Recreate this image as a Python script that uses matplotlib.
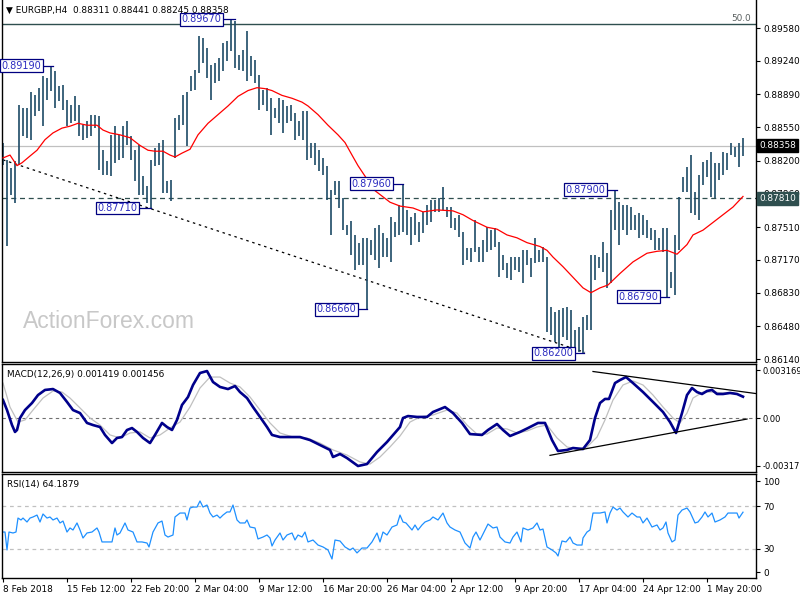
import matplotlib
matplotlib.use("Agg")
import matplotlib.pyplot as plt
import matplotlib.transforms as mtransforms
import numpy as np

# ---------------- data ----------------
highs = [0.8839, 0.8821, 0.8813, 0.8820, 0.8878, 0.8875, 0.8875, 0.8891, 0.8888, 0.8896,
         0.8908, 0.8906, 0.8919, 0.8913, 0.8898, 0.8899, 0.8883, 0.8878, 0.8887, 0.8878,
         0.8857, 0.8861, 0.8868, 0.8868, 0.8867, 0.8831, 0.8820, 0.8847, 0.8856, 0.8847,
         0.8856, 0.8861, 0.8846, 0.8831, 0.8836, 0.8804, 0.8794, 0.8821, 0.8833, 0.8839,
         0.8842, 0.8799, 0.8800, 0.8865, 0.8868, 0.8888, 0.8891, 0.8908, 0.8914, 0.8950,
         0.8948, 0.8937, 0.8920, 0.8922, 0.8927, 0.8942, 0.8945, 0.8967, 0.8965, 0.8930,
         0.8935, 0.8955, 0.8929, 0.8925, 0.8909, 0.8894, 0.8896, 0.8885, 0.8875, 0.8885,
         0.8883, 0.8877, 0.8878, 0.8870, 0.8861, 0.8872, 0.8872, 0.8839, 0.8839, 0.8831,
         0.8823, 0.8815, 0.8790, 0.8799, 0.8799, 0.8781, 0.8753, 0.8758, 0.8743, 0.8735,
         0.8740, 0.8740, 0.8738, 0.8750, 0.8753, 0.8745, 0.8740, 0.8762, 0.8756, 0.8774,
         0.8796, 0.8769, 0.8762, 0.8766, 0.8756, 0.8767, 0.8774, 0.8779, 0.8779, 0.8781,
         0.8793, 0.8772, 0.8772, 0.8761, 0.8764, 0.8746, 0.8729, 0.8729, 0.8759, 0.8730,
         0.8738, 0.8751, 0.8748, 0.8750, 0.8736, 0.8722, 0.8714, 0.8720, 0.8720, 0.8720,
         0.8727, 0.8727, 0.8719, 0.8740, 0.8727, 0.8730, 0.8720, 0.8668, 0.8663, 0.8665,
         0.8667, 0.8668, 0.8665, 0.8644, 0.8647, 0.8658, 0.8660, 0.8722, 0.8722, 0.8720,
         0.8736, 0.8724, 0.8769, 0.8790, 0.8777, 0.8774, 0.8774, 0.8772, 0.8764, 0.8766,
         0.8764, 0.8759, 0.8750, 0.8748, 0.8740, 0.8750, 0.8750, 0.8705, 0.8743, 0.8782,
         0.8803, 0.8814, 0.8826, 0.8788, 0.8805, 0.8819, 0.8821, 0.8829, 0.8818, 0.8818,
         0.8829, 0.8828, 0.8839, 0.8834, 0.8839, 0.8844]

lows = [0.8816, 0.8731, 0.8785, 0.8776, 0.8816, 0.8846, 0.8844, 0.8842, 0.8867, 0.8872,
        0.8856, 0.8883, 0.8893, 0.8875, 0.8882, 0.8873, 0.8856, 0.8859, 0.8861, 0.8846,
        0.8842, 0.8844, 0.8846, 0.8854, 0.8810, 0.8805, 0.8805, 0.8804, 0.8818, 0.8821,
        0.8823, 0.8836, 0.8821, 0.8799, 0.8785, 0.8785, 0.8776, 0.8771, 0.8815, 0.8816,
        0.8787, 0.8787, 0.8778, 0.8823, 0.8852, 0.8857, 0.8835, 0.8893, 0.8894, 0.8911,
        0.8922, 0.8906, 0.8883, 0.8901, 0.8903, 0.8913, 0.8924, 0.8934, 0.8916, 0.8914,
        0.8913, 0.8903, 0.8908, 0.8901, 0.8873, 0.8878, 0.8872, 0.8847, 0.8865, 0.8859,
        0.8849, 0.8859, 0.8861, 0.8842, 0.8846, 0.8842, 0.8821, 0.8823, 0.8816, 0.8809,
        0.8805, 0.8779, 0.8743, 0.8785, 0.8771, 0.8748, 0.8743, 0.8722, 0.8707, 0.8712,
        0.8712, 0.8666, 0.8722, 0.8717, 0.8709, 0.8720, 0.8720, 0.8715, 0.8741, 0.8743,
        0.8746, 0.8743, 0.8733, 0.8743, 0.8736, 0.8745, 0.8753, 0.8756, 0.8767, 0.8767,
        0.8769, 0.8762, 0.8750, 0.8748, 0.8741, 0.8712, 0.8717, 0.8715, 0.8725, 0.8715,
        0.8715, 0.8725, 0.8727, 0.8730, 0.8699, 0.8707, 0.8698, 0.8696, 0.8707, 0.8705,
        0.8693, 0.8712, 0.8699, 0.8714, 0.8715, 0.8715, 0.8642, 0.8639, 0.8632, 0.8623,
        0.8637, 0.8634, 0.8623, 0.8621, 0.8621, 0.8620, 0.8644, 0.8644, 0.8696, 0.8709,
        0.8704, 0.8688, 0.8693, 0.8748, 0.8733, 0.8748, 0.8743, 0.8748, 0.8748, 0.8740,
        0.8743, 0.8740, 0.8738, 0.8727, 0.8727, 0.8725, 0.8679, 0.8688, 0.8681, 0.8727,
        0.8788, 0.8788, 0.8766, 0.8764, 0.8759, 0.8795, 0.8803, 0.8782, 0.8781, 0.8800,
        0.8805, 0.8810, 0.8826, 0.8824, 0.8814, 0.8825]

ma_x = [0, 1.75, 3.5, 4.75, 6.75, 8.5, 10.5, 12.5, 14.75, 16.75, 18.75, 21, 23.5, 25, 26.75,
        29.25, 31.75, 34.25, 36.25, 38, 40, 41.75, 43, 44.75, 46.75, 48.75, 51.25, 53.75, 56.25,
        58.75, 61.25, 63.5, 65.5, 67.25, 69.75, 72.25, 74.75, 76.25, 78.75, 81.25, 83.75, 85.5,
        87.25, 88.75, 91, 91.75, 94.25, 96.75, 99.25, 102.5, 105, 108.5, 112.5, 115, 117.5, 121,
        123.5, 126, 128.5, 131, 134.25, 136, 137.5, 140, 142.5, 145, 147, 149.25, 151.25, 154.25,
        157.5, 161, 163.5, 166, 168.5, 171, 172.5, 175, 177.5, 180, 182.5, 185]
ma_v = [0.8823, 0.8826, 0.8815, 0.8818, 0.8825, 0.8831, 0.8842, 0.8849, 0.8854, 0.8856, 0.8859,
        0.8857, 0.8857, 0.8852, 0.8849, 0.8847, 0.8844, 0.8836, 0.8831, 0.8830, 0.8830, 0.8826,
        0.8824, 0.8828, 0.8832, 0.8847, 0.8859, 0.8868, 0.8877, 0.8887, 0.8893, 0.8896, 0.8895,
        0.8893, 0.8888, 0.8885, 0.8881, 0.8877, 0.8868, 0.8857, 0.8847, 0.8839, 0.8826, 0.8815,
        0.8801, 0.8793, 0.8785, 0.8777, 0.8773, 0.8771, 0.8767, 0.8769, 0.8768, 0.8764, 0.8758,
        0.8751, 0.8749, 0.8743, 0.8740, 0.8735, 0.8731, 0.8727, 0.8720, 0.8710, 0.8699, 0.8688,
        0.8683, 0.8688, 0.8691, 0.8703, 0.8715, 0.8724, 0.8726, 0.8727, 0.8723, 0.8733, 0.8743,
        0.8748, 0.8756, 0.8764, 0.8772, 0.8783]

macd_x = [0, 1, 2.25, 3, 3.5, 4.25, 5.5, 7.25, 8.75, 10.5, 12.5, 14.25, 16, 17.5, 19.25, 21,
          22.5, 24.25, 25.5, 27.25, 28.5, 29.75, 31, 32.25, 33.5, 35, 36.75, 38, 39.75, 41, 42.25,
          43.5, 44.75, 46.25, 47.5, 49.25, 51, 52.5, 54.25, 56.25, 58, 59.25, 61, 62.5, 64.25, 66,
          67.25, 69.25, 71.75, 74.25, 76.75, 79.25, 81.75, 82.5, 84.25, 86, 88.75, 91, 93.5, 96,
          99.25, 100, 101.25, 103.5, 106, 107.5, 110.5, 112.5, 114.75, 116.75, 119.75, 121.25,
          123.5, 125, 126.75, 129.25, 131.25, 133.75, 135.5, 137.25, 138.75, 141, 142.5, 145,
          146.75, 148, 149.25, 150.5, 151.5, 153, 154.25, 155.75, 157.5, 160, 162.5, 165, 166.75,
          168.25, 169.75, 171, 172.25, 173.5, 174.75, 176, 177.25, 178.5, 180, 181.75, 183.5, 185]
macd_v = [0.00120, 0.00053, -0.00047, -0.00093, -0.00080, 0.0, 0.00053, 0.00100, 0.00153,
          0.00187, 0.00193, 0.00167, 0.00107, 0.00053, 0.00033, -0.00033, -0.00047, -0.00060,
          -0.00113, -0.00167, -0.00133, -0.00127, -0.00080, -0.00067, -0.00093, -0.00133,
          -0.00167, -0.00113, -0.00033, -0.00060, -0.00080, -0.00013, 0.00087, 0.00140, 0.00220,
          0.00300, 0.00313, 0.00240, 0.00207, 0.00193, 0.00213, 0.00173, 0.00133, 0.00073,
          0.00007, -0.00060, -0.00113, -0.00127, -0.00127, -0.00127, -0.00147, -0.00180,
          -0.00213, -0.00260, -0.00240, -0.00267, -0.00320, -0.00307, -0.00227, -0.00160,
          -0.00060, 0.0, 0.00013, 0.00007, 0.00007, 0.00040, 0.00073, 0.00033, -0.00033,
          -0.00107, -0.00113, -0.00080, -0.00040, -0.00080, -0.00120, -0.00093, -0.00067,
          -0.00033, -0.00033, -0.00147, -0.00220, -0.00213, -0.00200, -0.00207, -0.00147, 0.0,
          0.00100, 0.00127, 0.00127, 0.00233, 0.00253, 0.00273, 0.00233, 0.00173, 0.00107,
          0.00040, -0.00027, -0.00100, 0.00033, 0.00153, 0.00200, 0.00173, 0.00160, 0.00180,
          0.00187, 0.00160, 0.00160, 0.00167, 0.00160, 0.00142]

sig_x = [0, 1.75, 3.75, 5.5, 7.5, 10, 12.5, 14.75, 16.75, 19.25, 21.75, 24.25, 26.75, 29.25,
         31.75, 34.25, 36.75, 39.25, 41.75, 44.25, 46.75, 49.25, 51.75, 54.25, 56.75, 59.25,
         61.75, 64.25, 66.75, 69.25, 72.5, 76, 79.25, 82.5, 86, 89.25, 91.75, 94.25, 96.75,
         99.25, 101.75, 104.25, 107.5, 111, 113.5, 116, 118.5, 121, 123.5, 126, 128.5, 131,
         133.5, 136, 138.5, 141, 143.5, 146, 148.5, 150.5, 152.5, 155, 157.5, 160, 162.5, 165,
         167.5, 169.25, 171, 172.5, 175, 177.5, 180, 182.5, 185]
sig_v = [0.00233, 0.00073, -0.00027, -0.00013, 0.00053, 0.00133, 0.00180, 0.00173, 0.00133,
         0.00067, 0.0, -0.00047, -0.00113, -0.00133, -0.00100, -0.00093, -0.00133, -0.00113,
         -0.00067, -0.00027, 0.00073, 0.00200, 0.00273, 0.00273, 0.00233, 0.00207, 0.00140,
         0.00053, -0.00033, -0.00100, -0.00127, -0.00133, -0.00167, -0.00213, -0.00247,
         -0.00293, -0.00307, -0.00260, -0.00193, -0.00120, -0.00027, 0.00007, 0.00020, 0.00053,
         0.00033, -0.00047, -0.00107, -0.00107, -0.00067, -0.00073, -0.00100, -0.00087,
         -0.00060, -0.00047, -0.00133, -0.00193, -0.00207, -0.00193, -0.00127, -0.00013,
         0.00120, 0.00220, 0.00247, 0.00220, 0.00153, 0.00073, 0.0, -0.00033, 0.00033, 0.00133,
         0.00173, 0.00173, 0.00167, 0.00167, 0.00146]

rsi_x = [0, 0.5, 1, 1.5, 2.5, 3.25, 3.75, 4.5, 5, 6, 6.75, 7.5, 8.5, 9.25, 10, 11, 11.75, 12.5,
         13.5, 14.25, 15, 16, 16.75, 17.5, 18.5, 19.25, 20, 21, 22.25, 23.5, 24, 24.75, 26, 27.25,
         28, 28.5, 29.25, 30.5, 31.25, 32.5, 33.5, 34.75, 36, 36.5, 37.5, 38.75, 39.75, 40.5,
         41.25, 42.5, 43, 44.25, 45.5, 46, 46.75, 47.5, 48.5, 49.25, 50, 51, 51.75, 52.5, 53.5,
         54.25, 55, 56, 56.75, 57.5, 58.5, 59.25, 60.5, 61, 61.75, 63, 63.75, 65, 66, 66.75,
         67.25, 68, 69.25, 70, 71, 72.25, 73, 73.75, 74.75, 75.5, 76.25, 77.5, 78.75, 80, 81.25,
         82.25, 83, 84.25, 85.5, 86.75, 87.5, 88.5, 89.75, 91, 92.25, 93.5, 94.25, 95, 96, 97.25,
         98.5, 99.25, 100, 100.75, 102.25, 103, 103.75, 104.75, 105.5, 106.75, 107.5, 108.75,
         110, 111, 111.75, 113, 114.25, 115.5, 116.75, 117.5, 118.25, 119.25, 120.5, 121.25,
         122.5, 123.5, 124.25, 125.5, 126.75, 127.5, 128.5, 129.5, 130, 131.25, 132.5, 133.5,
         134.25, 135, 136, 137.25, 138.25, 138.75, 139.75, 140.75, 141.75, 142.5, 143.5, 144.75,
         145, 146, 146.75, 147.5, 148.5, 149.25, 150.5, 151, 151.75, 152.5, 153.5, 154.25, 155,
         156.25, 157.25, 158.5, 159.25, 160, 161, 162.25, 163.5, 164.25, 165, 165.75, 166.25,
         167.25, 168, 168.75, 169.75, 171, 171.75, 173, 173.75, 174.75, 175.5, 176.25, 177.25,
         178, 179.25, 180.5, 181.25, 182.5, 183.5, 184, 185]
rsi_v = [45.6, 45.6, 28.8, 45.6, 44.7, 45.6, 58.7, 56.9, 58.7, 55.0, 58.7, 59.7, 61.5, 55.0,
         62.5, 58.7, 59.7, 56.9, 58.7, 54.1, 55.9, 45.6, 49.4, 47.5, 54.1, 47.5, 40.0, 44.7,
         45.6, 49.4, 45.6, 36.3, 36.3, 36.3, 49.4, 42.8, 44.7, 54.1, 47.5, 45.6, 36.3, 36.3,
         35.3, 31.6, 45.6, 54.1, 55.9, 42.8, 40.9, 42.8, 59.7, 63.4, 63.4, 56.9, 68.1, 69.0,
         69.0, 74.7, 69.0, 70.9, 63.4, 59.7, 61.5, 58.7, 61.5, 64.4, 64.4, 70.9, 56.9, 54.1,
         54.1, 56.9, 50.3, 49.4, 39.1, 40.9, 42.8, 40.0, 32.5, 38.1, 44.7, 38.1, 42.8, 44.7,
         38.1, 42.8, 40.9, 45.6, 36.3, 38.1, 33.4, 31.6, 28.8, 20.3, 38.1, 37.2, 31.6, 28.8,
         30.6, 26.0, 30.6, 30.6, 36.3, 44.7, 36.3, 45.6, 42.8, 50.3, 52.2, 61.5, 55.0, 54.1,
         47.5, 52.2, 47.5, 52.2, 55.0, 56.9, 59.7, 56.9, 63.4, 54.1, 50.3, 47.5, 45.6, 35.3,
         30.6, 40.9, 45.6, 38.1, 47.5, 53.1, 49.4, 50.3, 40.9, 36.3, 35.3, 40.9, 45.6, 36.3,
         49.4, 47.5, 49.4, 54.1, 47.5, 48.4, 31.6, 28.8, 26.0, 23.1, 37.2, 36.3, 40.9, 35.3,
         33.4, 33.4, 40.0, 45.6, 47.5, 63.4, 63.4, 63.4, 64.4, 54.1, 63.4, 69.0, 66.2, 68.1,
         64.4, 59.7, 63.4, 59.7, 59.7, 54.1, 58.7, 50.3, 52.2, 47.5, 49.4, 55.0, 44.7, 36.3,
         38.1, 61.5, 66.2, 68.1, 64.4, 54.1, 55.0, 59.7, 64.4, 59.7, 63.4, 55.0, 56.9, 59.7,
         63.4, 63.4, 63.4, 58.7, 64.2]

tick_pos = [0, 16, 32, 48, 64, 80, 96, 112, 128, 144, 160, 176]
tick_labels = ["8 Feb 2018", "15 Feb 12:00", "22 Feb 20:00", "2 Mar 04:00", "9 Mar 12:00",
               "16 Mar 20:00", "26 Mar 04:00", "2 Apr 12:00", "9 Apr 20:00", "17 Apr 04:00",
               "24 Apr 12:00", "1 May 20:00"]
price_ticks = [0.8958, 0.8924, 0.8889, 0.8855, 0.8820, 0.8786, 0.8751, 0.8717, 0.8683, 0.8648, 0.8614]

# swing labels: text, price, box right (bar units), bar position
swings = [("0.89190", 0.8919, 9.6, 12.5), ("0.89670", 0.8967, 54.6, 58.0),
          ("0.87710", 0.8771, 33.6, 37.0), ("0.86660", 0.8666, 88.3, 91.0),
          ("0.87960", 0.8796, 97.1, 100.0), ("0.86200", 0.8620, 142.6, 145.3),
          ("0.87900", 0.8790, 150.6, 153.5), ("0.86790", 0.8679, 163.8, 166.5)]

last_price = 0.88358
support = 0.87810
fib50 = 0.8962
trend_x = [0, 145.5]
trend_y = [0.8821, 0.8621]
macd_tri_up_x = [147.5, 188.5]
macd_tri_up_y = [0.00310, 0.00162]
macd_tri_lo_x = [136.75, 186.0]
macd_tri_lo_y = [-0.00249, -0.00007]

# ---------------- style ----------------
FS = 6.4
plt.rcParams['font.family'] = ['DejaVu Sans']
BAR = '#1d4a66'
W, H = 800, 600

fig = plt.figure(figsize=(8, 6), dpi=100)
fig.patch.set_facecolor('white')

def rect(y0, y1):
    return [2 / W, 1 - y1 / H, 754 / W, (y1 - y0) / H]

ax1 = fig.add_axes(rect(0, 362))
ax2 = fig.add_axes(rect(364, 472))
ax3 = fig.add_axes(rect(474, 578))

xlim = (-0.25, 188.25)
for ax in (ax1, ax2, ax3):
    ax.set_xlim(*xlim)
    for s in ax.spines.values():
        s.set_color('black')
        s.set_linewidth(1.0)
    ax.yaxis.tick_right()
    ax.tick_params(axis='y', direction='out', length=3, width=0.8, pad=2, labelsize=FS, colors='black')
    ax.set_facecolor('white')
ax1.spines['top'].set_visible(False)

# main chart
idx = np.arange(len(highs))
ax1.set_ylim(0.86110, 0.89871)
ax1.axhline(last_price, color='#c0c0c0', lw=0.9, zorder=1)
ax1.axhline(fib50, color='#2f4f4f', lw=1.0, zorder=1)
ax1.axhline(support, color='#2f4f4f', lw=0.9, ls=(0, (4, 3)), zorder=1)
ax1.plot(trend_x, trend_y, color='black', lw=0.9, ls=(0, (2, 3)), zorder=1)
ax1.vlines(idx, lows, highs, color=BAR, lw=1.2, zorder=2)
ax1.plot(ma_x, ma_v, color='#ff0000', lw=0.9, zorder=3)
ax1.set_xticks([])
ax1.set_yticks(price_ticks)
ax1.set_yticklabels(['%.5f' % v for v in price_ticks])

for txt, p, bx, bi in swings:
    ax1.plot([bx, bi], [p, p], color='#000080', lw=0.9, zorder=3)
    ax1.text(bx, p, txt, ha='right', va='center', fontsize=7, color='#2b2bc0', zorder=5,
             bbox=dict(boxstyle='square,pad=0.15', fc='white', ec='#000080', lw=0.9))

tr = mtransforms.blended_transform_factory(ax1.transAxes, ax1.transData)
ax1.text(1.004, last_price, '%.5f' % last_price, transform=tr, ha='left', va='center', fontsize=FS,
         color='white', clip_on=False, zorder=10,
         bbox=dict(boxstyle='square,pad=0.2', fc='black', ec='black'))
ax1.text(1.004, support, '%.5f' % support, transform=tr, ha='left', va='center', fontsize=FS,
         color='white', clip_on=False, zorder=10,
         bbox=dict(boxstyle='square,pad=0.2', fc='#2f4f4f', ec='#2f4f4f'))
ax1.text(0.993, fib50 + 0.00012, '50.0', transform=tr, ha='right', va='bottom', fontsize=FS,
         color='#5a6060')

# MACD
ax2.set_ylim(-0.0036, 0.0036)
ax2.axhline(0, color='#707070', lw=0.8, ls=(0, (3, 3)))
ax2.plot(sig_x, sig_v, color='#c0c0c0', lw=0.9)
ax2.plot(macd_x, macd_v, color='#00008b', lw=1.9)
ax2.plot(macd_tri_up_x, macd_tri_up_y, color='black', lw=0.9)
ax2.plot(macd_tri_lo_x, macd_tri_lo_y, color='black', lw=0.9)
ax2.set_xticks([])
ax2.set_yticks([0.003169, 0.0, -0.003177])
ax2.set_yticklabels(['0.003169', '0.00', '-0.003177'])
ax2.tick_params(axis='y', labelsize=6.0)

# RSI
ax3.set_ylim(2.5, 100)
ax3.axhline(70, color='#c0c0c0', lw=0.9, ls=(0, (3, 3)))
ax3.axhline(30, color='#c0c0c0', lw=0.9, ls=(0, (3, 3)))
ax3.plot(rsi_x, rsi_v, color='#1e90ff', lw=0.9)
ax3.set_yticks([93.4, 70, 30, 8.1])
ax3.set_yticklabels(['100', '70', '30', '0'])
ax3.set_xticks(tick_pos)
ax3.set_xticklabels(tick_labels, ha='left')
ax3.tick_params(axis='x', direction='out', length=3, width=0.8, pad=2, labelsize=FS, colors='black')
for lab in ax3.get_xticklabels():
    lab.set_horizontalalignment('left')

def ftxt(x, y, s, **kw):
    fig.text(x / W, 1 - y / H, s, va='center', ha='left', **kw)

ftxt(6, 10, '\u25bc EURGBP,H4  0.88311 0.88441 0.88245 0.88358', fontsize=FS, color='black')
ftxt(7, 374, 'MACD(12,26,9) 0.001419 0.001456', fontsize=FS, color='black')
ftxt(7, 484, 'RSI(14) 64.1879', fontsize=FS, color='black')
ftxt(23, 322, 'ActionForex.com', fontsize=16.5, color='#c8c8c8', family='Liberation Sans')

fig.savefig('out.png', dpi=100)
